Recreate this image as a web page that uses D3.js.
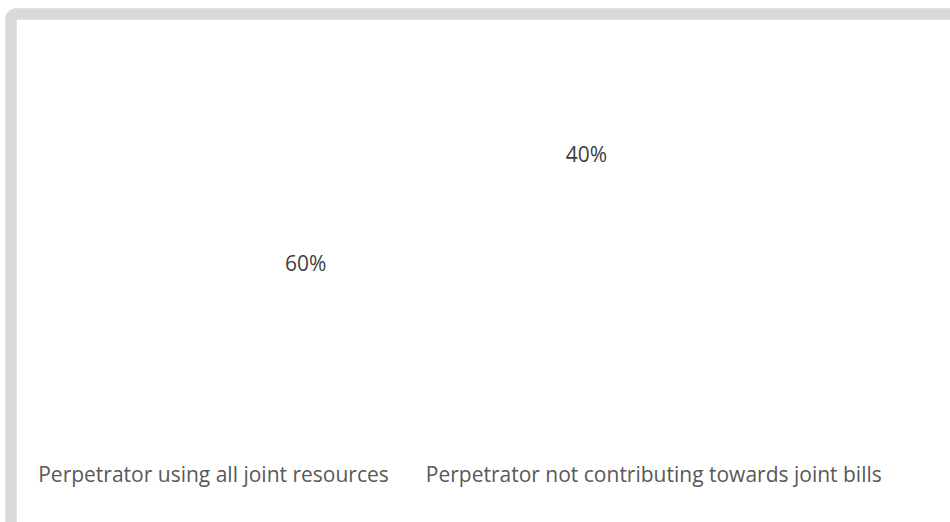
<!DOCTYPE html>
<html>
<head>
<meta charset="utf-8">
<script src="https://cdn.jsdelivr.net/npm/d3@7"></script>
<style>
  html, body { margin: 0; padding: 0; background: #ffffff; }
  svg { display: block; }
  text { font-family: "Open Sans", sans-serif; }
</style>
</head>
<body>
<div id="chart"></div>
<script>
//chart data
var categories = ['Perpetrator using all joint resources', 'Perpetrator not contributing towards joint bills'];
var shares = [60, 40];

var width = 950,
    height = 522,
    cx = 446,
    cy = 209,
    labelRadius = 150.6,
    startDeg = 140.7;

var svg = d3.select('#chart').append('svg')
    .attr('width', width)
    .attr('height', height);

//frame around chart area (only top and left edges are visible)
svg.append('rect')
    .attr('x', 11)
    .attr('y', 14)
    .attr('width', width + 40)
    .attr('height', height + 40)
    .attr('rx', 5)
    .attr('fill', '#ffffff')
    .attr('stroke', '#d9d9d9')
    .attr('stroke-width', 11.5);

//pie layout
var pie = d3.pie()
    .sort(null)
    .value(function (d) { return d; })
    .startAngle(startDeg * Math.PI / 180)
    .endAngle(startDeg * Math.PI / 180 + 2 * Math.PI);

var arcs = pie(shares);

var arc = d3.arc().innerRadius(0).outerRadius(labelRadius * 1.2);
var labelArc = d3.arc().innerRadius(labelRadius).outerRadius(labelRadius);

var g = svg.append('g')
    .attr('transform', 'translate(' + cx + ',' + cy + ')');

//slices are white on white
g.selectAll('path.slice')
    .data(arcs)
    .enter().append('path')
    .attr('class', 'slice')
    .attr('d', arc)
    .attr('fill', '#ffffff')
    .attr('stroke', '#ffffff')
    .attr('stroke-width', 2);

//value labels
g.selectAll('text.value')
    .data(arcs)
    .enter().append('text')
    .attr('class', 'value')
    .attr('transform', function (d) { return 'translate(' + labelArc.centroid(d) + ')'; })
    .attr('text-anchor', 'middle')
    .attr('dy', '0.36em')
    .attr('font-size', 21)
    .attr('fill', '#404040')
    .text(function (d) { return d3.format('.0f')(d.data) + '%'; });

//legend
var legend = svg.append('g');
var items = legend.selectAll('text.legend')
    .data(categories)
    .enter().append('text')
    .attr('class', 'legend')
    .attr('y', 482)
    .attr('font-size', 21)
    .attr('fill', '#595959')
    .text(function (d) { return d; });

var gap = 37, widths = [];
items.each(function () { widths.push(this.getComputedTextLength()); });
var total = d3.sum(widths) + gap * (widths.length - 1);
var x0 = 460 - total / 2;
items.attr('x', function (d, i) {
    return x0 + d3.sum(widths.slice(0, i)) + gap * i;
});
</script>
</body>
</html>
